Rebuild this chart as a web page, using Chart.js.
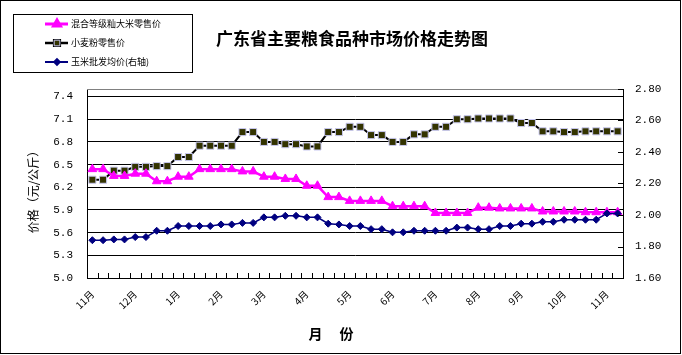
<!DOCTYPE html>
<html>
<head>
<meta charset="utf-8">
<script src="https://cdn.jsdelivr.net/npm/chart.js@4/dist/chart.umd.min.js"></script>
<style>
html,body{margin:0;padding:0;background:#fff;}
canvas{display:block;}
</style>
</head>
<body>
<canvas id="c" width="682" height="355"></canvas>
<script>
const categories = ['11月','','','','12月','','','','1月','','','','2月','','','','3月','','','','4月','','','','5月','','','','6月','','','','7月','','','','8月','','','','9月','','','','10月','','','','11月',''];
const riceRetail = [6.44,6.44,6.35,6.35,6.38,6.38,6.28,6.28,6.34,6.34,6.44,6.44,6.44,6.44,6.41,6.41,6.34,6.34,6.31,6.31,6.22,6.22,6.07,6.07,6.02,6.02,6.02,6.02,5.95,5.95,5.95,5.95,5.86,5.86,5.86,5.86,5.93,5.93,5.92,5.92,5.92,5.92,5.88,5.88,5.88,5.88,5.87,5.87,5.87,5.87];
const flourRetail = [6.30,6.30,6.42,6.42,6.47,6.47,6.48,6.48,6.60,6.60,6.75,6.75,6.75,6.75,6.93,6.93,6.80,6.80,6.77,6.77,6.74,6.74,6.93,6.93,7.00,7.00,6.89,6.89,6.80,6.80,6.90,6.90,7.00,7.00,7.10,7.10,7.11,7.11,7.11,7.11,7.05,7.05,6.94,6.94,6.93,6.93,6.94,6.94,6.94,6.94];
const cornWholesale = [1.84,1.84,1.845,1.845,1.86,1.86,1.90,1.90,1.93,1.93,1.93,1.93,1.94,1.94,1.95,1.95,1.985,1.985,1.995,1.995,1.985,1.985,1.945,1.94,1.93,1.93,1.91,1.91,1.89,1.89,1.90,1.90,1.90,1.90,1.92,1.92,1.91,1.91,1.93,1.93,1.945,1.945,1.957,1.957,1.97,1.97,1.97,1.97,2.01,2.01];
const leftTicks = [5.0,5.3,5.6,5.9,6.2,6.5,6.8,7.1,7.4];
const rightTicks = [1.6,1.8,2.0,2.2,2.4,2.6,2.8];
const seriesNames = ['混合等级籼大米零售价','小麦粉零售价','玉米批发均价(右轴)'];
const chartTitle = '广东省主要粮食品种市场价格走势图';
const yTitle = '价格（元/公斤）';
const xTitle = '月　 份';

const CJK = '"Noto Sans CJK SC", "Noto Sans", sans-serif';

const decor = {
  id: 'decor',
  beforeDraw(chart) {
    const ctx = chart.ctx;
    ctx.save();
    ctx.fillStyle = '#fff';
    ctx.fillRect(0, 0, chart.width, chart.height);
    ctx.restore();
  },
  afterDraw(chart) {
    const ctx = chart.ctx;
    const a = chart.chartArea;
    const xs = chart.scales.x;
    const yr = chart.scales.y1;
    ctx.save();
    ctx.strokeStyle = '#808080';
    ctx.lineWidth = 1;
    ctx.beginPath();
    ctx.moveTo(a.left, Math.round(a.top) + 0.5);
    ctx.lineTo(a.right, Math.round(a.top) + 0.5);
    ctx.stroke();
    ctx.strokeStyle = '#000';
    ctx.beginPath();
    const n = categories.length;
    const step = xs.getPixelForValue(1) - xs.getPixelForValue(0);
    for (let k = 0; k <= n; k++) {
      const px = Math.round(xs.getPixelForValue(0) - step / 2 + k * step) + 0.5;
      ctx.moveTo(px, a.bottom);
      ctx.lineTo(px, a.bottom - 5);
    }
    rightTicks.forEach(v => {
      const py = Math.round(yr.getPixelForValue(v)) + 0.5;
      ctx.moveTo(a.right, py);
      ctx.lineTo(a.right - 5, py);
    });
    ctx.stroke();

    ctx.strokeStyle = '#000';
    ctx.strokeRect(0.5, 0.5, 680, 353);

    ctx.fillStyle = '#000';
    ctx.font = 'bold 17px ' + CJK;
    ctx.textAlign = 'center';
    ctx.textBaseline = 'middle';
    ctx.fillText(chartTitle, 352, 39);

    ctx.save();
    ctx.translate(33, 189);
    ctx.rotate(-Math.PI / 2);
    ctx.font = '12px ' + CJK;
    ctx.fillText(yTitle, 0, 0);
    ctx.restore();

    ctx.font = 'bold 14px ' + CJK;
    ctx.fillText(xTitle, 331, 334);

    ctx.fillStyle = '#fff';
    ctx.fillRect(13, 14, 179, 58);
    ctx.strokeStyle = '#000';
    ctx.strokeRect(13.5, 14.5, 179, 58);
    const rows = [24, 43, 62];
    chart.data.datasets.forEach((ds, i) => {
      const y = rows[i];
      ctx.strokeStyle = ds.borderColor;
      ctx.lineWidth = ds.borderWidth + 0.5;
      ctx.beginPath();
      ctx.moveTo(45, y);
      ctx.lineTo(68, y);
      ctx.stroke();
      Chart.helpers.drawPoint(ctx, {
        pointStyle: ds.pointStyle,
        radius: ds.pointRadius * 0.8,
        borderWidth: ds.pointBorderWidth
      }, 57, y);
      ctx.fillStyle = ds.pointBackgroundColor;
      ctx.strokeStyle = ds.pointBorderColor;
      ctx.lineWidth = ds.pointBorderWidth;
      ctx.fill();
      ctx.stroke();
      ctx.fillStyle = '#000';
      ctx.font = '9px ' + CJK;
      ctx.textAlign = 'left';
      ctx.textBaseline = 'middle';
      ctx.fillText(ds.label, 71, y);
    });
    ctx.restore();
  }
};

new Chart(document.getElementById('c'), {
  type: 'line',
  data: {
    labels: categories,
    datasets: [
      {
        label: seriesNames[0], data: riceRetail, yAxisID: 'y', order: 1,
        borderColor: '#ff00ff', borderWidth: 2.5, backgroundColor: '#ff00ff',
        pointStyle: 'triangle', pointRadius: 5, pointBackgroundColor: '#ff00ff',
        pointBorderColor: '#ff00ff', pointBorderWidth: 1, tension: 0
      },
      {
        label: seriesNames[1], data: flourRetail, yAxisID: 'y', order: 2,
        borderColor: '#000000', borderWidth: 2, backgroundColor: '#333300',
        pointStyle: 'rect', pointRadius: 5, pointBackgroundColor: '#333300',
        pointBorderColor: '#c8c8f0', pointBorderWidth: 1, tension: 0
      },
      {
        label: seriesNames[2], data: cornWholesale, yAxisID: 'y1', order: 0,
        borderColor: '#000080', borderWidth: 1.5, backgroundColor: '#000080',
        pointStyle: 'rectRot', pointRadius: 3.5, pointBackgroundColor: '#000080',
        pointBorderColor: '#000080', pointBorderWidth: 1, tension: 0
      }
    ]
  },
  options: {
    responsive: false,
    animation: false,
    events: [],
    layout: { padding: { top: 89, left: 0, right: 0, bottom: 0 } },
    plugins: { legend: { display: false }, title: { display: false }, tooltip: { enabled: false } },
    scales: {
      x: {
        offset: true,
        grid: { display: false, drawTicks: false },
        border: { display: true, color: '#000', width: 1 },
        ticks: {
          autoSkip: false, maxRotation: 45, minRotation: 45, padding: 10,
          color: '#000', font: { family: CJK, size: 10 }
        },
        afterFit(s) { s.height = 77; }
      },
      y: {
        position: 'left', min: 5.0, max: 7.5,
        afterBuildTicks(s) { s.ticks = leftTicks.map(v => ({ value: v })); },
        grid: { color: '#000', lineWidth: 1, drawTicks: false },
        border: { display: true, color: '#000', width: 1 },
        ticks: {
          padding: 14, color: '#000', font: { family: '"Liberation Mono", monospace', size: 11 },
          callback: v => Number(v).toFixed(1)
        },
        afterFit(s) { s.width = 87; }
      },
      y1: {
        position: 'right', min: 1.6, max: 2.8,
        afterBuildTicks(s) { s.ticks = rightTicks.map(v => ({ value: v })); },
        grid: { drawOnChartArea: false, drawTicks: false },
        border: { display: true, color: '#000', width: 1 },
        ticks: {
          padding: 12, color: '#000', font: { family: '"Liberation Mono", monospace', size: 11 },
          callback: v => Number(v).toFixed(2)
        },
        afterFit(s) { s.width = 59; }
      }
    }
  },
  plugins: [decor]
});
</script>
</body>
</html>
